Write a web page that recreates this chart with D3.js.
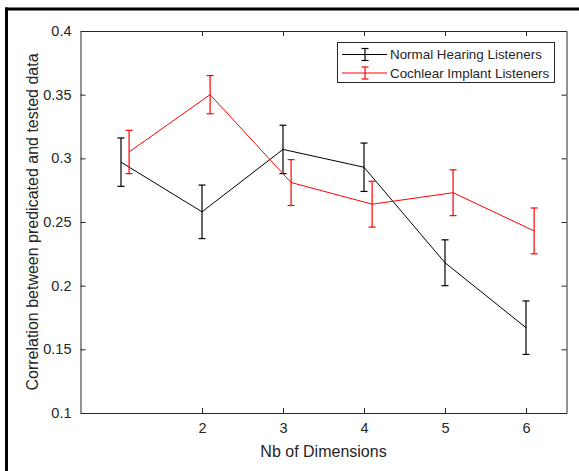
<!DOCTYPE html>
<html>
<head>
<meta charset="utf-8">
<script src="https://cdn.jsdelivr.net/npm/d3@7"></script>
<style>
  html, body { margin: 0; padding: 0; background: #fff; }
  svg { display: block; font-family: "Liberation Sans", Arial, Helvetica, sans-serif; }
</style>
</head>
<body>
<svg id="chart" width="579" height="471"></svg>
<script>
// Number of dimensions on the x axis
const dimensions = [1, 2, 3, 4, 5, 6];
const xTickValues = [2, 3, 4, 5, 6];
const yTickValues = [0.1, 0.15, 0.2, 0.25, 0.3, 0.35, 0.4];

// Mean correlation and error (half bar length) for each listener group
const nhMean = [0.297, 0.258, 0.307, 0.293, 0.218, 0.167];
const nhErr  = [0.019, 0.021, 0.019, 0.019, 0.018, 0.021];
const ciMean = [0.305, 0.350, 0.281, 0.264, 0.273, 0.243];
const ciErr  = [0.017, 0.015, 0.018, 0.018, 0.018, 0.018];

const seriesNames = ["Normal Hearing Listeners", "Cochlear Implant Listeners"];
const seriesColors = ["#000000", "#ff0000"];
const seriesOffsets = [0, 0.1];

const svg = d3.select("#chart");
const W = 579, H = 471;
const box = { left: 80.5, right: 566.5, top: 31, bottom: 413 };
const axisColor = "#262626";

// Figure frame lines along the top and left edge
svg.append("line").attr("x1", 5).attr("x2", W).attr("y1", 9).attr("y2", 9)
  .attr("stroke", "#000").attr("stroke-width", 3);
svg.append("line").attr("x1", 6.5).attr("x2", 6.5).attr("y1", 7.5).attr("y2", H)
  .attr("stroke", "#000").attr("stroke-width", 3);

const x = d3.scaleLinear().domain([0.5, 6.5]).range([box.left, box.right]);
const y = d3.scaleLinear().domain([0.1, 0.4]).range([box.bottom, box.top]);

const fmt = d => (d === 0.1 || d === 0.2 || d === 0.3 || d === 0.4) ? d3.format(".1f")(d) : d3.format(".2f")(d);

// Axes with inward ticks on all four sides
const gB = svg.append("g").attr("transform", `translate(0,${box.bottom})`)
  .call(d3.axisBottom(x).tickValues(xTickValues).tickSizeInner(-5).tickSizeOuter(0).tickPadding(10).tickFormat(d3.format("d")));
const gT = svg.append("g").attr("transform", `translate(0,${box.top})`)
  .call(d3.axisTop(x).tickValues(xTickValues).tickSizeInner(-5).tickSizeOuter(0).tickFormat(""));
const gL = svg.append("g").attr("transform", `translate(${box.left},0)`)
  .call(d3.axisLeft(y).tickValues(yTickValues).tickSizeInner(-5).tickSizeOuter(0).tickPadding(9).tickFormat(fmt));
const gR = svg.append("g").attr("transform", `translate(${box.right},0)`)
  .call(d3.axisRight(y).tickValues(yTickValues).tickSizeInner(-5).tickSizeOuter(0).tickFormat(""));

[gB, gT, gL, gR].forEach(g => {
  g.select(".domain").attr("stroke", axisColor).attr("stroke-width", 1);
  g.selectAll(".tick line").attr("stroke", axisColor);
  g.selectAll(".tick text").attr("fill", axisColor).style("font-size", "14.5px")
    .style("font-family", '"Liberation Sans", Arial, Helvetica, sans-serif');
});

// Axis titles
svg.append("text")
  .attr("x", (box.left + box.right) / 2).attr("y", 457)
  .attr("text-anchor", "middle").attr("fill", axisColor)
  .style("font-size", "16px")
  .text("Nb of Dimensions");
svg.append("text")
  .attr("transform", `translate(38,${(box.top + box.bottom) / 2}) rotate(-90)`)
  .attr("text-anchor", "middle").attr("fill", axisColor)
  .style("font-size", "16px")
  .text("Correlation between predicated and tested data");

// Series lines with error bars
const series = [
  { mean: nhMean, err: nhErr },
  { mean: ciMean, err: ciErr }
];
const capHalf = 3.5;
const line = d3.line().x(d => x(d.x)).y(d => y(d.v));

series.forEach((s, si) => {
  const pts = dimensions.map((d, i) => ({ x: d + seriesOffsets[si], v: s.mean[i], e: s.err[i] }));
  const g = svg.append("g");
  g.append("path").datum(pts).attr("d", line)
    .attr("fill", "none").attr("stroke", seriesColors[si]).attr("stroke-width", 1);
  const eb = g.selectAll("g.eb").data(pts).enter().append("g");
  eb.append("line")
    .attr("x1", d => x(d.x)).attr("x2", d => x(d.x))
    .attr("y1", d => y(d.v - d.e)).attr("y2", d => y(d.v + d.e))
    .attr("stroke", seriesColors[si]).attr("stroke-width", 1.2);
  [-1, 1].forEach(sign => {
    eb.append("line")
      .attr("x1", d => x(d.x) - capHalf).attr("x2", d => x(d.x) + capHalf)
      .attr("y1", d => y(d.v + sign * d.e)).attr("y2", d => y(d.v + sign * d.e))
      .attr("stroke", seriesColors[si]).attr("stroke-width", 1.2);
  });
});

// Legend
const lg = svg.append("g");
lg.append("rect").attr("x", 337.5).attr("y", 42.5).attr("width", 217).attr("height", 40)
  .attr("fill", "#fff").attr("stroke", axisColor).attr("stroke-width", 1);
seriesNames.forEach((name, i) => {
  const cy = 54.5 + i * 18.5;
  const c = seriesColors[i];
  lg.append("line").attr("x1", 342).attr("x2", 387).attr("y1", cy).attr("y2", cy)
    .attr("stroke", c).attr("stroke-width", 1);
  lg.append("line").attr("x1", 365).attr("x2", 365).attr("y1", cy - 6).attr("y2", cy + 6)
    .attr("stroke", c).attr("stroke-width", 1.2);
  [-6, 6].forEach(o => lg.append("line").attr("x1", 361.5).attr("x2", 368.5)
    .attr("y1", cy + o).attr("y2", cy + o).attr("stroke", c).attr("stroke-width", 1.2));
  lg.append("text").attr("x", 390).attr("y", cy).attr("dy", "0.35em")
    .attr("fill", axisColor).style("font-size", "13.4px").text(name);
});
</script>
</body>
</html>
